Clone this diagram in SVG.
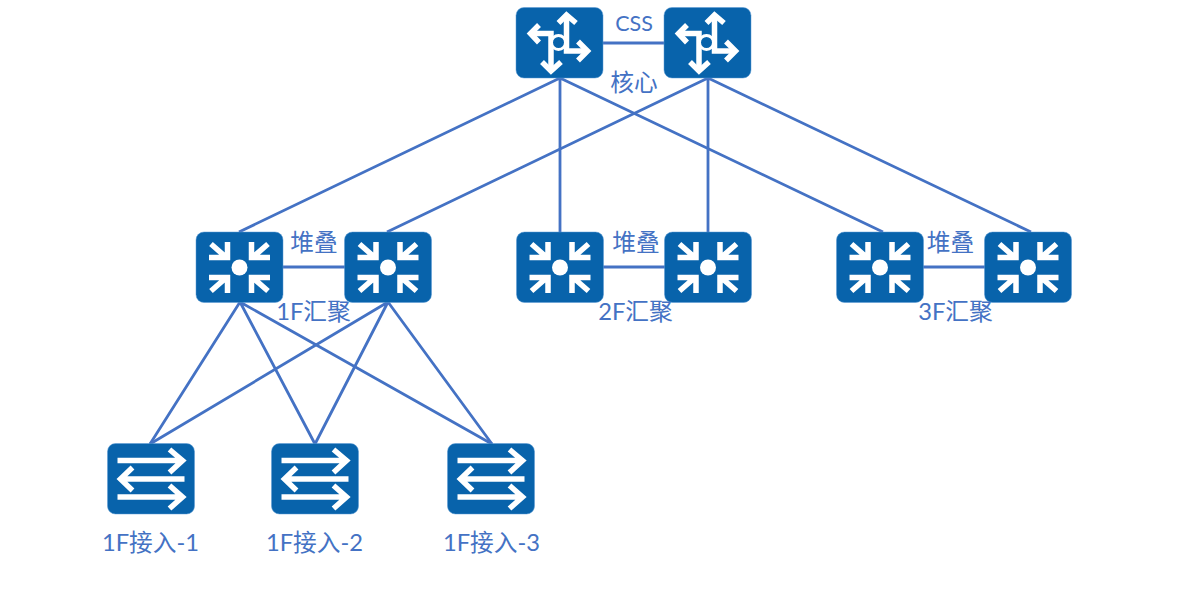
<svg xmlns="http://www.w3.org/2000/svg" width="1203" height="610" viewBox="0 0 1203 610">
<style>
  .box { fill: #0863ab; stroke: #5b9bd5; stroke-width: 0.5; }
  .glyph { fill: none; stroke: #fff; stroke-width: 5.5; stroke-linejoin: miter; stroke-linecap: butt; }
  .dot { fill: #fff; }
  .label { font-family: Lato, "Noto Sans CJK SC", sans-serif; font-size: 23.700px; fill: #4472c4; text-anchor: middle; }
  .small { font-size: 21.500px; }
  .link { fill: none; stroke: #4472c4; stroke-width: 2.800; }
</style>
<defs>
  <g id="router">
    <rect class="box" width="87" height="70.5" rx="8"/>
    <path class="glyph" d="M15 26H35V63"/>
    <path class="glyph" d="M50.500 8V43.500H71"/>
    <path class="glyph" d="M42.500 15.500L50.500 7.500L60 15.500"/>
    <path class="glyph" d="M23 17.500L14.500 26L23 35"/>
    <path class="glyph" d="M62 34L71.500 43.500L62 53"/>
    <path class="glyph" d="M26 54.500L35 63.500L45 54.500"/>
    <circle cx="42.500" cy="35" r="7" fill="#0863ab" stroke="#fff" stroke-width="3"/>
  </g>
  <g id="aggregation">
    <rect class="box" width="87" height="70.500" rx="8"/>
    <circle class="dot" cx="43.500" cy="35.500" r="8"/>
    <g id="pinch">
      <path class="glyph" d="M13 25.500H31.500V10M15 12L31 26"/>
    </g>
    <use href="#pinch" transform="matrix(-1 0 0 1 87 0)"/>
    <use href="#pinch" transform="matrix(1 0 0 -1 0 71)"/>
    <use href="#pinch" transform="matrix(-1 0 0 -1 87 71)"/>
  </g>
  <g id="access">
    <rect class="box" width="87" height="70.500" rx="8"/>
    <path class="glyph" d="M10 17H74M62 6L75 17L62 29"/>
    <path class="glyph" d="M77 35.500H13M25 24L13 35.500L25 47"/>
    <path class="glyph" d="M10 53.500H74M62 42L75 53.500L62 65"/>
  </g>
</defs>

<g id="connectors">
  <path class="link" d="M603 43H665M283 267H345M603 267H665M923 267H985"/>
  <path class="link" d="M560 78L239 232M560 78V232M560 78L883 232"/>
  <path class="link" d="M708 78L387 232M708 78V232M708 78L1031 232"/>
  <path class="link" d="M240 302L150 444M240 302L315 444M240 302L492 444"/>
  <path class="link" d="M388 302L150 444M388 302L315 444M388 302L492 444"/>
</g>

<g id="core-1"><use href="#router" x="516" y="7.500"/></g>
<g id="core-2"><use href="#router" x="664" y="7.500"/></g>
<g id="agg-1a"><use href="#aggregation" x="196" y="232"/></g>
<g id="agg-1b"><use href="#aggregation" x="344.500" y="232"/></g>
<g id="agg-2a"><use href="#aggregation" x="516.500" y="232"/></g>
<g id="agg-2b"><use href="#aggregation" x="664.500" y="232"/></g>
<g id="agg-3a"><use href="#aggregation" x="836.500" y="232"/></g>
<g id="agg-3b"><use href="#aggregation" x="984.500" y="232"/></g>
<g id="access-1"><use href="#access" x="107.500" y="443.500"/></g>
<g id="access-2"><use href="#access" x="271.500" y="443.500"/></g>
<g id="access-3"><use href="#access" x="447.500" y="443.500"/></g>

<g id="labels">
  <text class="label small" x="634" y="30.500">CSS</text>
  <text class="label" x="634" y="91">核心</text>
  <text class="label" x="314" y="250.500">堆叠</text>
  <text class="label" x="636" y="250.500">堆叠</text>
  <text class="label" x="950.500" y="250.500">堆叠</text>
  <text class="label" x="313.500" y="320">1F汇聚</text>
  <text class="label" x="635.500" y="320">2F汇聚</text>
  <text class="label" x="955.500" y="320">3F汇聚</text>
  <text class="label" x="150.500" y="551">1F接入-1</text>
  <text class="label" x="314.500" y="551">1F接入-2</text>
  <text class="label" x="491.500" y="551">1F接入-3</text>
</g>
</svg>
